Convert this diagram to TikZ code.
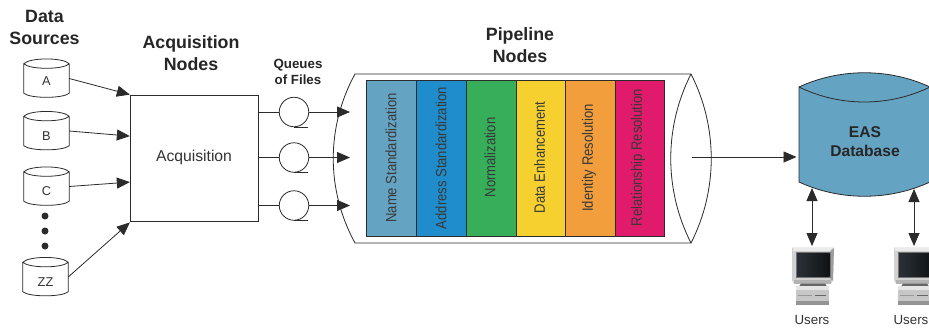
\documentclass[tikz,border=0pt]{standalone}
\usepackage{fontspec}
\setmainfont{Liberation Sans}
\newfontfamily\condfont[FakeStretch=0.87]{Liberation Sans}
\usetikzlibrary{arrows.meta,calc,positioning}
\definecolor{cName}{HTML}{65A3C3}
\definecolor{cAddr}{HTML}{1F8DCB}
\definecolor{cNorm}{HTML}{37AE5A}
\definecolor{cData}{HTML}{F6D02E}
\definecolor{cIden}{HTML}{F39E3C}
\definecolor{cRela}{HTML}{E01B6B}
\definecolor{cLine}{HTML}{2B2B2B}
\definecolor{cScreen}{HTML}{2A3136}
\tikzset{
  x=1pt,y=-1pt,
  line/.style={draw=cLine,line width=0.8pt},
  arrow/.style={line,-{Triangle[length=13pt,width=11pt,fill=cLine]}},
  biarrow/.style={line,{Triangle[length=13pt,width=11pt,fill=cLine]}-{Triangle[length=13pt,width=11pt,fill=cLine]}},
  head/.style={font=\fontsize{17.8}{22}\selectfont\bfseries,align=center,text=black!85},
  subhead/.style={font=\fontsize{13.3}{16}\selectfont\bfseries,align=center,text=black!85},
  cyltext/.style={font=\fontsize{12.8}{15}\selectfont,text=black!80,inner sep=0pt},
  dot/.style={circle,fill=cLine,minimum size=7pt,inner sep=0pt},
  queue/.style={circle,line,minimum size=29.5pt,inner sep=0pt},
  band/.style={draw=cLine,line width=0.8pt,minimum height=156pt,inner sep=0pt,anchor=north west},
  bandtext/.style={font=\condfont\fontsize{15}{17}\selectfont,text=black!78,rotate=90,inner sep=0pt},
  usertext/.style={font=\fontsize{13.3}{15}\selectfont,text=black!80,inner sep=0pt},
}
\newcommand{\cylnode}[6]{%
  \node[cyltext,minimum width=#4pt,minimum height=#5pt] (#1) at (#2,#3) {};
  \draw[line,fill=white] (#1.north west) -- (#1.south west)
    .. controls ($(#1.south west)+(6,5.5)$) and ($(#1.south east)+(-6,5.5)$) .. (#1.south east)
    -- (#1.north east)
    .. controls ($(#1.north east)+(-6,-6.5)$) and ($(#1.north west)+(6,-6.5)$) .. (#1.north west)
    .. controls ($(#1.north west)+(6,6)$) and ($(#1.north east)+(-6,6)$) .. (#1.north east);
  \node[cyltext] at (#1.center) [yshift=-#6pt] {#1};
}
\newcommand{\computer}[2]{%
  \begin{scope}[shift={(#1,#2)}]
    % monitor housing
    \fill[black!18] (0,0) -- (42,0) -- (41,33) -- (39,36) -- (2,36) -- (0,33) -- cycle;
    \fill[black!8] (1,0.5) rectangle (41,3);
    \fill[black!38] (38.5,3) -- (42,0.5) -- (41,33) -- (38.5,32) -- cycle;
    \fill[black!30] (2,32) rectangle (39,36);
    % screen
    \fill[black!55] (3.5,4) rectangle (38.5,30.5);
    \shade[left color=cScreen,right color=black!62!cScreen] (5,5.5) rectangle (37.5,29);
    % stand
    \fill[black!60] (9,36) -- (33,36) -- (35,39) -- (7,39) -- cycle;
    % base
    \fill[black!22] (4,38.5) rectangle (37,57);
    \fill[black!10] (4,38.5) rectangle (37,42);
    \fill[black!42] (4,53.5) rectangle (37,57);
    \draw[black!60,line width=0.8pt] (23,47.5) -- (34,47.5);
    \draw[black!40,line width=0.6pt] (6,47.5) -- (20,47.5);
  \end{scope}
}
\begin{document}
\begin{tikzpicture}
\useasboundingbox (0,0) rectangle (929,327);
\fill[white] (0,0) rectangle (929,327);

% Headings
\node[head] (hData) at (44.5,27) {Data\\Sources};
\node[head] (hAcq) at (191,53) {Acquisition\\Nodes};
\node[subhead] (hQue) at (298,72) {Queues\\of Files};
\node[head] (hPipe) at (520,45) {Pipeline\\Nodes};

% Sources
\cylnode{A}{46.5}{78.5}{45}{29}{2.5}
\cylnode{B}{46.5}{131}{45}{29}{5}
\cylnode{C}{46.5}{186.5}{45}{29}{4.5}
\cylnode{ZZ}{45.5}{277}{45}{29}{5}
\node[dot] (d1) at (45,216) {};
\node[dot] (d2) at (45,231) {};
\node[dot] (d3) at (45,246) {};

% Acquisition
\node[line,minimum width=128.5pt,minimum height=126pt,inner sep=0pt] (acq) at (194.5,158) {};
\node[font=\fontsize{15.7}{18}\selectfont,text=black!80,inner sep=0pt] (acqlabel) at (194,157) {Acquisition};
\coordinate (acqA) at (acq.north west);
\coordinate (acqB) at ($(acq.north west)+(0,41.5)$);
\coordinate (acqC) at ($(acq.north west)+(0,87.5)$);
\coordinate (acqZ) at ($(acq.south west)+(0,1)$);
\draw[arrow] (A.east) -- (acqA);
\draw[arrow] (B.east) -- (acqB);
\draw[arrow] (C.east) -- (acqC);
\draw[arrow] (ZZ.east) -- (acqZ);

% Pipeline body
\coordinate (pTL) at (355,74);
\coordinate (pBL) at (355,243);
\coordinate (pTR) at (691,74);
\coordinate (pBR) at (691,243);
\draw[line] (pBL) .. controls (326,190) and (326,127) .. (pTL) -- (pTR)
  .. controls (718,127) and (718,190) .. (pBR) -- cycle;
\draw[line] (pTR) .. controls (664,127) and (664,190) .. (pBR);

% Bands
\node[band,fill=cName,minimum width=50pt] (b1) at (366,80) {};
\node[band,fill=cAddr,minimum width=50pt] (b2) at (416,80) {};
\node[band,fill=cNorm,minimum width=49.5pt] (b3) at (466,80) {};
\node[band,fill=cData,minimum width=49.5pt] (b4) at (515.5,80) {};
\node[band,fill=cIden,minimum width=49.5pt] (b5) at (565,80) {};
\node[band,fill=cRela,minimum width=49.5pt] (b6) at (614.5,80) {};
\node[bandtext] (t1) at (391,158) {Name Standardization};
\node[bandtext] (t2) at (441,158) {Address Standardization};
\node[bandtext] (t3) at (490,157.5) {Normalization};
\node[bandtext] (t4) at (539.5,157.5) {Data Enhancement};
\node[bandtext] (t5) at (589,158) {Identity Resolution};
\node[bandtext] (t6) at (638,157.5) {Relationship Resolution};

% Queues
\foreach \n/\y in {1/112,2/157.5,3/205.5}{
  \node[queue] (q\n) at (294,\y) {};
  \coordinate (in\n) at (350,\y);
  \draw[line] (acq.east |- q\n) -- (q\n);
  \draw[line] (q\n.south) -- ++(14,0);
  \draw[arrow] (q\n) -- (in\n);
}

% Database
\coordinate (dbTL) at (799,87);
\coordinate (dbTR) at (930,87);
\coordinate (dbBL) at (799,182);
\coordinate (dbBR) at (930,182);
\draw[line,fill=cName] (dbBL) -- (dbTL) .. controls (840,68) and (889,68) .. (dbTR)
  -- (dbBR) .. controls (889,201) and (840,201) .. (dbBL) -- cycle;
\draw[line] (dbTL) .. controls (840,107) and (889,107) .. (dbTR);
\node[font=\fontsize{15.6}{19}\selectfont\bfseries,align=center,text=black!85,inner sep=0pt] (db) at (865,141.5) {EAS\\Database};

% Pipeline to database
\coordinate (pOut) at (692,157);
\coordinate (dbIn) at (796.5,157);
\draw[arrow] (pOut) -- (dbIn);

% Users
\computer{792}{247.5}
\computer{894}{247.5}
\coordinate (u1top) at (812,246);
\coordinate (u2top) at (914,246);
\coordinate (db1) at (812,188);
\coordinate (db2) at (914,189);
\draw[biarrow] (db1) -- (u1top);
\draw[biarrow] (db2) -- (u2top);
\node[usertext] (u1) at (812,319.5) {Users};
\node[usertext] (u2) at (911,319.5) {Users};
\end{tikzpicture}
\end{document}
